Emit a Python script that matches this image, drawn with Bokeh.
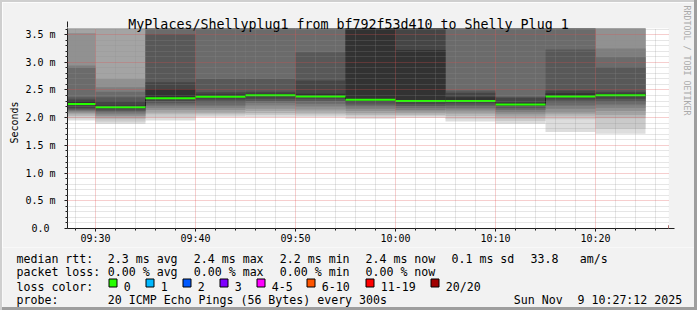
import pandas as pd
from bokeh.plotting import figure
from bokeh.layouts import column, row
from bokeh.models import (ColumnDataSource, FixedTicker, Label, Arrow, NormalHead,
                          Range1d, Spacer)
from bokeh.core.properties import value
from bokeh.embed import file_html
from bokeh.resources import INLINE

# ---------------- data ----------------
DAY = "2025-11-09"
view_start = "09:27:12"
view_minutes = 60
col_start = ["09:25", "09:30", "09:35", "09:40", "09:45", "09:50",
             "09:55", "10:00", "10:05", "10:10", "10:15", "10:20"]
col_minutes = 5
median_ms = [2.245, 2.19, 2.353, 2.378, 2.407, 2.384,
             2.324, 2.30, 2.30, 2.24, 2.384, 2.407]
# 20 sorted ping times per step (ms); 4.0 = above the visible range
pings_ms = [
    [1.95, 1.99, 2.03, 2.06, 2.09, 2.11, 2.13, 2.15, 2.17, 2.245, 2.30, 2.33, 2.37, 2.90, 2.94, 3.53, 4.0, 4.0, 4.0, 4.0],
    [1.89, 1.93, 1.97, 2.00, 2.03, 2.06, 2.09, 2.12, 2.15, 2.19, 2.22, 2.30, 2.37, 2.47, 2.55, 2.70, 4.0, 4.0, 4.0, 4.0],
    [1.95, 2.01, 2.06, 2.10, 2.14, 2.18, 2.22, 2.26, 2.30, 2.353, 2.52, 2.64, 3.51, 4.0, 4.0, 4.0, 4.0, 4.0, 4.0, 4.0],
    [2.01, 2.04, 2.07, 2.10, 2.14, 2.18, 2.22, 2.28, 2.33, 2.378, 2.42, 2.46, 2.70, 4.0, 4.0, 4.0, 4.0, 4.0, 4.0, 4.0],
    [2.01, 2.05, 2.08, 2.12, 2.16, 2.22, 2.27, 2.30, 2.34, 2.407, 2.43, 2.47, 2.70, 4.0, 4.0, 4.0, 4.0, 4.0, 4.0, 4.0],
    [2.01, 2.04, 2.07, 2.11, 2.15, 2.20, 2.25, 2.30, 2.34, 2.384, 2.43, 2.67, 3.18, 4.0, 4.0, 4.0, 4.0, 4.0, 4.0, 4.0],
    [1.98, 2.02, 2.05, 2.08, 2.12, 2.16, 2.20, 2.24, 2.28, 2.324, 4.0, 4.0, 4.0, 4.0, 4.0, 4.0, 4.0, 4.0, 4.0, 4.0],
    [2.00, 2.03, 2.05, 2.08, 2.11, 2.14, 2.18, 2.21, 2.25, 2.30, 3.22, 4.0, 4.0, 4.0, 4.0, 4.0, 4.0, 4.0, 4.0, 4.0],
    [1.93, 1.98, 2.03, 2.07, 2.11, 2.15, 2.18, 2.22, 2.26, 2.30, 2.37, 2.45, 2.49, 4.0, 4.0, 4.0, 4.0, 4.0, 4.0, 4.0],
    [1.89, 1.94, 1.98, 2.02, 2.06, 2.10, 2.14, 2.17, 2.21, 2.24, 2.27, 2.36, 2.38, 4.0, 4.0, 4.0, 4.0, 4.0, 4.0, 4.0],
    [1.74, 1.97, 2.02, 2.06, 2.10, 2.16, 2.22, 2.28, 2.33, 2.384, 2.44, 2.49, 3.23, 4.0, 4.0, 4.0, 4.0, 4.0, 4.0, 4.0],
    [1.71, 1.80, 1.99, 2.05, 2.12, 2.18, 2.24, 2.29, 2.34, 2.407, 2.43, 2.47, 2.91, 3.09, 3.25, 4.0, 4.0, 4.0, 4.0, 4.0],
]
smoke_gray = ["#dddddd", "#cacaca", "#b7b7b7", "#a4a4a4", "#919191",
              "#7e7e7e", "#6b6b6b", "#585858", "#454545", "#323232"]
x_tick_labels = ["09:30", "09:40", "09:50", "10:00", "10:10", "10:20"]
x_minor_labels = ["09:28", "09:32", "09:34", "09:36", "09:38", "09:42", "09:44", "09:46",
                  "09:48", "09:52", "09:54", "09:56", "09:58", "10:02", "10:04", "10:06",
                  "10:08", "10:12", "10:14", "10:16", "10:18", "10:22", "10:24", "10:26"]
y_ticks = [0.0, 0.5, 1.0, 1.5, 2.0, 2.5, 3.0, 3.5]
y_tick_labels = ["0.0 ", "0.5 m", "1.0 m", "1.5 m", "2.0 m", "2.5 m", "3.0 m", "3.5 m"]
y_minor = [round(i * 0.1, 1) for i in range(1, 37) if i % 5 != 0]
y_top = 3.61
loss_labels = ["0", "1", "2", "3", "4-5", "6-10", "11-19", "20/20"]
loss_colors = ["#26ff00", "#00b8ff", "#0059ff", "#7e00ff", "#ff00ff", "#ff5500", "#ff0000", "#a00000"]
rtt_values = ["2.3", "2.4", "2.2", "2.4", "0.1"]
rtt_kinds = ["avg", "max", "min", "now", "sd"]
am_s = "33.8"
loss_values = ["0.00", "0.00", "0.00", "0.00"]
loss_kinds = ["avg", "max", "min", "now"]
probe_text = "20 ICMP Echo Pings (56 Bytes) every 300s"
stamp = ["Sun Nov", "9 10:27:12 2025"]
title_text = "MyPlaces/Shellyplug1 from bf792f53d410 to Shelly Plug 1"
y_label = "Seconds"
watermark = "RRDTOOL / TOBI OETIKER"


def ms(t):
    return pd.Timestamp(f"{DAY} {t}").value / 1e6


# ---------------- layout constants (global window pixels) ----------------
W, H = 697, 310
SA, SB = 2, 3                      # shade widths (top/left, bottom/right)
FL, FR, FT, FB = 67, 668, 28, 228  # plot frame
LEG_TOP = 247                      # legend figure starts here
AW, AH = W - SA - SB, LEG_TOP - SA  # main figure size
MS_PER_PX = view_minutes * 60000 / 600
x0 = ms(view_start)
x1 = x0 + (FR - FL) * MS_PER_PX


def X(px):
    return x0 + (px - FL) * MS_PER_PX


def Y(py):
    return (FB - py) * y_top / (FB - FT)


MONO = "DejaVu Sans Mono"
BACK = "#f2f2f2"

p = figure(width=AW, height=AH, x_axis_type="datetime", output_backend="svg",
           toolbar_location=None, x_range=Range1d(x0, x1), y_range=Range1d(0, y_top),
           min_border_left=FL - SA, min_border_right=AW - (FR - SA), min_border_top=FT - SA,
           min_border_bottom=AH - (FB - SA))
p.border_fill_color = BACK
p.background_fill_color = "white"
p.outline_line_color = None

# ---------------- smoke ----------------
L, R, B, T, C = [], [], [], [], []
for k in range(10):
    for i, t in enumerate(col_start):
        s = ms(t)
        L.append(s); R.append(s + col_minutes * 60000)
        B.append(pings_ms[i][k]); T.append(pings_ms[i][19 - k]); C.append(smoke_gray[k])
p.quad(left="l", right="r", bottom="b", top="t", fill_color="c", line_color=None,
       source=ColumnDataSource(dict(l=L, r=R, b=B, t=T, c=C)))

# median: dark step line + green bar
sx = [ms(t) for t in col_start] + [ms(col_start[-1]) + col_minutes * 60000]
sy = median_ms + [median_ms[-1]]
p.step(x=sx, y=sy, mode="after", line_color="#202020", line_width=1)
sw = y_top / 200
p.quad(left=[ms(t) for t in col_start], right=[ms(t) + col_minutes * 60000 for t in col_start],
       bottom=[m - sw for m in median_ms], top=[m + sw for m in median_ms],
       fill_color=loss_colors[0], line_color=None)

# ---------------- axes & grid ----------------
xt = [ms(t) for t in x_tick_labels]
p.xaxis.ticker = FixedTicker(ticks=xt, minor_ticks=[ms(t) for t in x_minor_labels])
p.xaxis.major_label_overrides = {v: s for v, s in zip(xt, x_tick_labels)}
p.yaxis.ticker = FixedTicker(ticks=y_ticks, minor_ticks=y_minor)
p.yaxis.major_label_overrides = {v: s for v, s in zip(y_ticks, y_tick_labels)}
for ax in (p.xaxis[0], p.yaxis[0]):
    ax.axis_line_color = "#1f1f1f"
    ax.major_tick_line_color = "#1f1f1f"
    ax.minor_tick_line_color = "#1f1f1f"
    ax.major_tick_in = 0
    ax.minor_tick_in = 0
    ax.major_tick_out = 3
    ax.minor_tick_out = 2
    ax.major_label_text_font = MONO
    ax.major_label_text_font_size = "10px"
    ax.major_label_text_color = "black"
p.yaxis.major_label_standoff = 9
p.xaxis.major_label_standoff = 1

for g in (p.xgrid[0], p.ygrid[0]):
    g.level = "overlay"
    g.grid_line_color = "#de4f4f"
    g.grid_line_alpha = 0.55
    g.grid_line_dash = "1 1"
    g.minor_grid_line_color = "#8f8f8f"
    g.minor_grid_line_alpha = 0.45
    g.minor_grid_line_dash = "1 1"

ARROW = "#801f1f"
p.add_layout(Arrow(end=NormalHead(size=6, fill_color=ARROW, line_color=ARROW, line_width=1),
                   x_start=X(FL), y_start=y_top, x_end=X(FL), y_end=Y(21),
                   line_color="#1f1f1f", line_width=1))
p.add_layout(Arrow(end=NormalHead(size=6, fill_color=ARROW, line_color=ARROW, line_width=1),
                   x_start=X(FR), y_start=0, x_end=X(674), y_end=0,
                   line_color="#1f1f1f", line_width=1))

# title, axis caption and watermark as labels placed in the side panels (canvas pixels)
p.add_layout(Label(x=348 - SA, y=24 - SA, x_units="canvas", y_units="canvas", text=title_text,
                   text_font=MONO, text_font_size="13.3px", text_align="center",
                   text_baseline="alphabetic", text_color="black"), "above")
p.add_layout(Label(x=14 - SA, y=122 - SA, x_units="canvas", y_units="canvas", text=y_label,
                   text_font=MONO, text_font_size="10px", text_align="center",
                   text_baseline="alphabetic", text_color="black", angle=1.5707963), "left")
p.add_layout(Label(x=686 - SA, y=5 - SA, x_units="canvas", y_units="canvas", text=watermark,
                   text_font=MONO, text_font_size="8.3px", text_align="left",
                   text_baseline="alphabetic", text_color="#aaaaaa", angle=-1.5707963), "right")

# ---------------- legend figure (its frame is the whole figure, pixel coordinates) ----------------
q = figure(width=AW, height=H - SB - LEG_TOP, output_backend="svg", toolbar_location=None,
           x_range=Range1d(SA, W - SB), y_range=Range1d(H - SB, LEG_TOP),
           min_border=0, min_border_left=0, min_border_right=0, min_border_top=0,
           min_border_bottom=0, x_axis_location=None, y_axis_location=None)
q.border_fill_color = BACK
q.background_fill_color = BACK
q.outline_line_color = None
q.xgrid.visible = False
q.ygrid.visible = False

tx, ty, tt = [], [], []


def put(text, x, y):
    tx.append(x); ty.append(y); tt.append(text)


row_x = [107.3, 193.3, 279.3, 365, 451]
put("median rtt:", 16, 258.3)
for v, kd, x in zip(rtt_values, rtt_kinds, row_x):
    put(f"{v} ms {kd}", x, 258.3)
put(am_s, 530, 258.3)
put("am/s", 579.3, 258.3)
put("packet loss:", 16, 271.7)
for v, kd, x in zip(loss_values, loss_kinds, row_x):
    put(f"{v} % {kd}", x, 271.7)
put("loss color:", 16, 286)
box_x = [108.5, 145.5, 182.5, 219.5, 256.5, 306.5, 365.5, 430.5]
for lb, bx in zip(loss_labels, box_x):
    put(lb, bx + 14.8, 286)
put("probe:", 16, 299.3)
put(probe_text, 107.3, 299.3)
put(stamp[0], 513.3, 299.3)
put(stamp[1], 577, 299.3)

q.text(x="x", y="y", text="t", source=ColumnDataSource(dict(x=tx, y=ty, t=tt)),
       text_font=value(MONO), text_font_size=value("11.6px"), text_align="left",
       text_baseline="alphabetic", text_color="black")
q.quad(left=box_x, right=[b + 8 for b in box_x], top=[278.5] * 8, bottom=[286.5] * 8,
       fill_color=loss_colors, line_color="black", line_width=1)


# ---------------- page with rrdtool-like shaded frame ----------------
def strip(w, h, color):
    return Spacer(width=w, height=h, styles={"background-color": color})


layout = row(strip(SA, H, "#cfcfcf"),
             column(strip(AW, SA, "#cfcfcf"), row(p, spacing=0), row(q, spacing=0),
                    strip(AW, SB, "#9e9e9e"), spacing=0),
             strip(SB, H, "#9e9e9e"), spacing=0)

open("out.html", "w").write(file_html(layout, INLINE))
